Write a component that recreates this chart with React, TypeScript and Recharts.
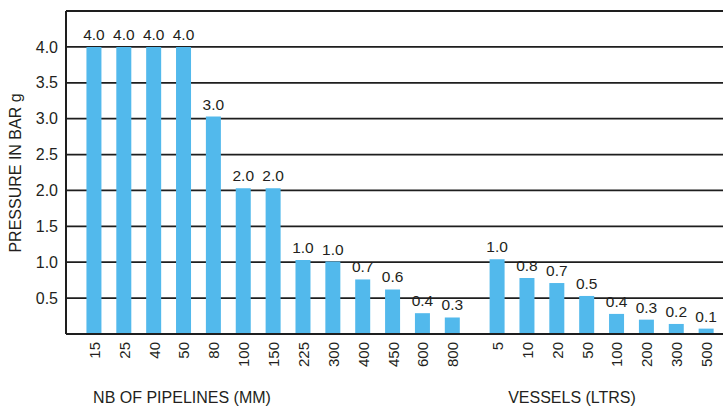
import React from "react"
import { Bar, BarChart, CartesianGrid, Customized, LabelList, XAxis, YAxis } from "recharts"

// pipelines (NB in mm)
const pipeSizes = ["15", "25", "40", "50", "80", "100", "150", "225", "300", "400", "450", "600", "800"]
const pipeHeights = [4.0, 4.0, 4.0, 4.0, 3.03, 2.03, 2.03, 1.03, 1.01, 0.76, 0.62, 0.29, 0.23]
const pipeLabels = ["4.0", "4.0", "4.0", "4.0", "3.0", "2.0", "2.0", "1.0", "1.0", "0.7", "0.6", "0.4", "0.3"]

// vessels (litres)
const vesselSizes = ["5", "10", "20", "50", "100", "200", "300", "500"]
const vesselHeights = [1.04, 0.78, 0.71, 0.53, 0.28, 0.2, 0.14, 0.075]
const vesselLabels = ["1.0", "0.8", "0.7", "0.5", "0.4", "0.3", "0.2", "0.1"]

const yTicks = [0, 0.5, 1.0, 1.5, 2.0, 2.5, 3.0, 3.5, 4.0, 4.5]

const GAP = 0.5

const data = [
  ...pipeSizes.map((name, i) => ({ x: i, name, value: pipeHeights[i], label: pipeLabels[i] })),
  ...vesselSizes.map((name, i) => ({
    x: pipeSizes.length + GAP + i,
    name,
    value: vesselHeights[i],
    label: vesselLabels[i],
  })),
]

const FONT = "'Liberation Sans', Arial, Helvetica, sans-serif"
const INK = "#231f20"
const LINE = "#1e1e1e"

const XTick = (props: any) => {
  const { x, y, payload } = props
  const row = data.find((d) => d.x === payload.value)
  return (
    <text
      x={x}
      y={y}
      transform={`rotate(-90, ${x}, ${y})`}
      textAnchor="end"
      dominantBaseline="central"
      fontSize={15}
      fontFamily={FONT}
      fill={INK}
    >
      {row ? row.name : ""}
    </text>
  )
}

const Titles = () => (
  <g fontFamily={FONT} fill={INK} fontSize={16}>
    <text x={15} y={173} transform="rotate(-90, 15, 173)" textAnchor="middle" dominantBaseline="central">
      PRESSURE IN BAR g
    </text>
    <text x={182} y={403} textAnchor="middle">
      NB OF PIPELINES (MM)
    </text>
    <text x={572} y={403} textAnchor="middle">
      VESSELS (LTRS)
    </text>
  </g>
)

export default function App() {
  return (
    <div style={{ position: "absolute", left: 0, top: 0 }}>
      <BarChart
        width={723}
        height={406}
        data={data}
        margin={{ top: 11, right: 0, bottom: 0, left: 0 }}
      >
        <CartesianGrid
          horizontal={true}
          vertical={false}
          stroke={LINE}
          strokeWidth={1.8}
          strokeOpacity={1}
        />
        <XAxis
          type={"number"}
          dataKey={"x"}
          domain={[-0.95, 21.05]}
          ticks={data.map((d) => d.x)}
          interval={0}
          height={72}
          tickLine={false}
          axisLine={{ stroke: LINE, strokeWidth: 2 }}
          tick={<XTick />}
        />
        <YAxis
          type={"number"}
          domain={[0, 4.5]}
          ticks={yTicks}
          interval={0}
          width={66}
          tickLine={false}
          axisLine={{ stroke: LINE, strokeWidth: 2 }}
          tick={{ fontSize: 16, fill: INK, fontFamily: FONT }}
          tickFormatter={(v: number) => (v === 0 || v === 4.5 ? "" : v.toFixed(1))}
        />
        <Bar dataKey={"value"} fill={"#52b9ec"} barSize={15} isAnimationActive={false}>
          <LabelList
            dataKey={"label"}
            position={"top"}
            offset={7}
            fontSize={15.5}
            fontFamily={FONT}
            fill={INK}
          />
        </Bar>
        <Customized component={Titles} />
      </BarChart>
    </div>
  )
}
